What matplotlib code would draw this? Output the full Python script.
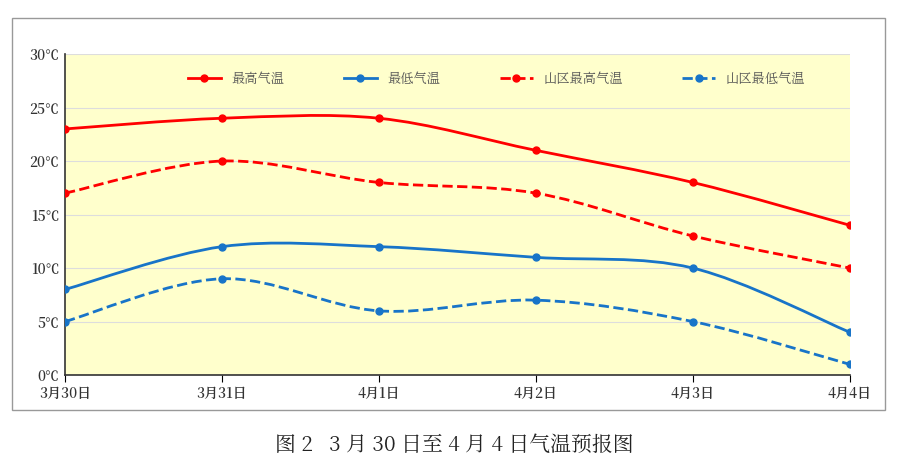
import matplotlib
matplotlib.use("Agg")
import matplotlib.pyplot as plt
from matplotlib import font_manager as fm
from matplotlib.path import Path
from matplotlib.patches import PathPatch, Rectangle
from matplotlib.lines import Line2D

categories = ["3月30日", "3月31日", "4月1日", "4月2日", "4月3日", "4月4日"]
max_temp = [23, 24, 24, 21, 18, 14]
min_temp = [8, 12, 12, 11, 10, 4]
mt_max_temp = [17, 20, 18, 17, 13, 10]
mt_min_temp = [5, 9, 6, 7, 5, 1]
yticks = [0, 5, 10, 15, 20, 25, 30]
series_names = ["最高气温", "最低气温", "山区最高气温", "山区最低气温"]

cjk_files = [f for f in fm.findSystemFonts() if "CJK" in f]
cjk_reg = [f for f in cjk_files if "Regular" in f] or cjk_files
cjk_bold = [f for f in cjk_files if "Bold" in f] or cjk_reg
def fp(path, size):
    return fm.FontProperties(fname=path, size=size) if path else fm.FontProperties(family="Noto Sans CJK SC", size=size)
reg = cjk_reg[0] if cjk_reg else None
bold = cjk_bold[0] if cjk_bold else None

fig = plt.figure(figsize=(9, 4.7), dpi=100)
fig.patches.append(Rectangle((0.0133, 0.128), 0.97, 0.834, transform=fig.transFigure,
                             fill=False, edgecolor="#999999", lw=1))
ax = fig.add_axes([0.0722, 0.202, 0.872, 0.683])
ax.set_facecolor("#FFFFCC")

def smooth_path(xs, ys, t=1/6):
    verts = [(xs[0], ys[0])]
    codes = [Path.MOVETO]
    n = len(xs)
    for i in range(n - 1):
        x0, y0 = (xs[i-1], ys[i-1]) if i > 0 else (xs[i], ys[i])
        x1, y1 = xs[i], ys[i]
        x2, y2 = xs[i+1], ys[i+1]
        x3, y3 = (xs[i+2], ys[i+2]) if i + 2 < n else (x2, y2)
        c1 = (x1 + (x2 - x0) * t, y1 + (y2 - y0) * t)
        c2 = (x2 - (x3 - x1) * t, y2 - (y3 - y1) * t)
        verts += [c1, c2, (x2, y2)]
        codes += [Path.CURVE4] * 3
    return Path(verts, codes)

xs = list(range(len(categories)))
styles = [(max_temp, "#FF0000", "-"), (min_temp, "#1874C8", "-"),
          (mt_max_temp, "#FF0000", "--"), (mt_min_temp, "#1874C8", "--")]
handles = []
for (vals, c, ls), name in zip(styles, series_names):
    ax.add_patch(PathPatch(smooth_path(xs, vals), fill=False, edgecolor=c, lw=2, ls=ls, zorder=3))
    ax.plot(xs, vals, "o", color=c, ms=5, zorder=4)
    handles.append(Line2D([], [], color=c, ls=ls, lw=2, marker="o", ms=5, label=name))

ax.set_xlim(0, len(categories) - 1)
ax.set_ylim(0, 30)
ax.set_yticks(yticks)
ax.set_yticklabels([f"{v}℃" for v in yticks], fontproperties=fp(bold, 10), color="#333333")
ax.set_xticks(xs)
ax.set_xticklabels(categories, fontproperties=fp(bold, 10), color="#333333")
ax.grid(axis="y", color="#DDDDDD", lw=0.8)
ax.set_axisbelow(True)
for s in ["top", "right"]:
    ax.spines[s].set_visible(False)
for s in ["left", "bottom"]:
    ax.spines[s].set_color("#333333")
    ax.spines[s].set_linewidth(1.2)
ax.tick_params(axis="y", length=0, pad=4)
ax.tick_params(axis="x", length=5, direction="out", pad=3)

leg = ax.legend(handles=handles, loc="upper center", bbox_to_anchor=(0.55, 0.98), ncol=4,
                frameon=False, prop=fp(reg, 9.5), columnspacing=4.5, handlelength=2.5)
for t in leg.get_texts():
    t.set_color("#555555")

fig.text(0.505, 0.053, "图 2   3 月 30 日至 4 月 4 日气温预报图", ha="center", va="center",
         fontproperties=fp(reg, 15), color="#222222")

fig.savefig("out.png", dpi=100)
